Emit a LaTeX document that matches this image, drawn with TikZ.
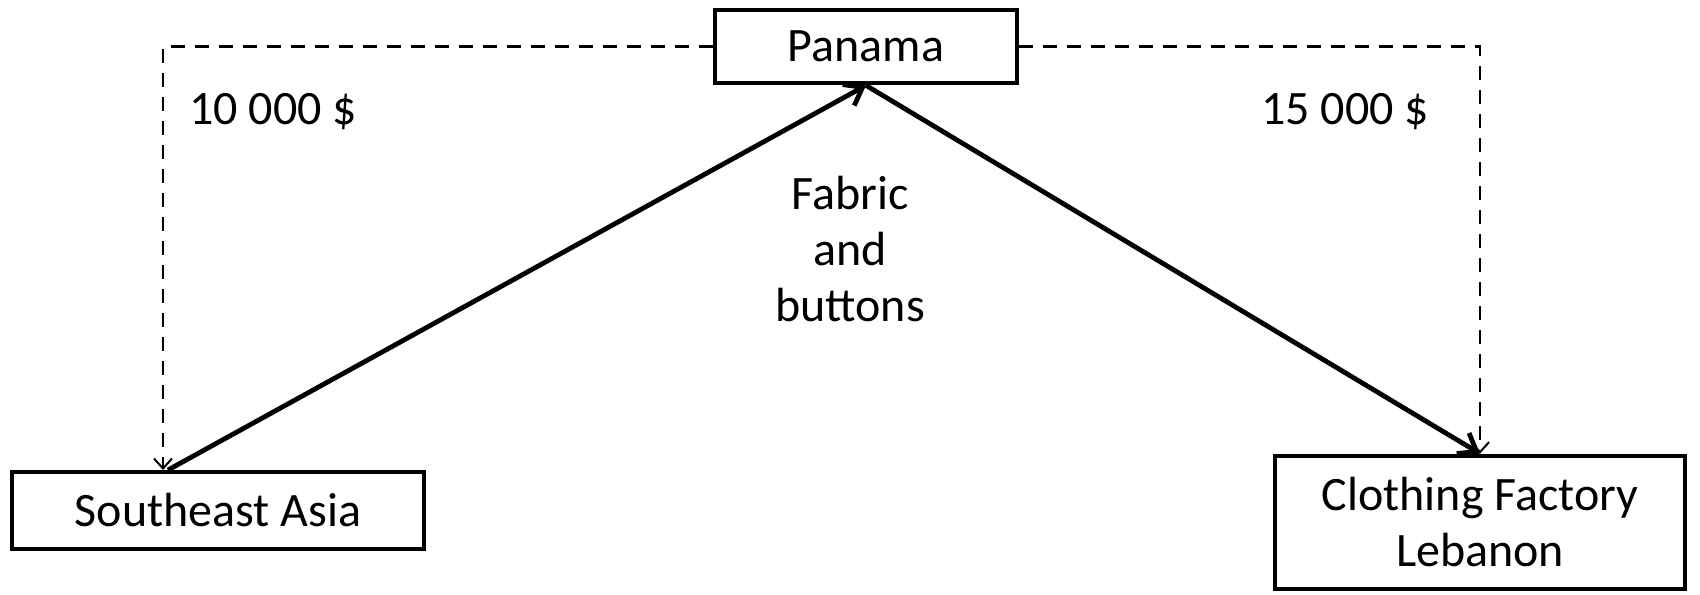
\documentclass[tikz,border=0pt]{standalone}
\usepackage{fontspec}
\setmainfont{Carlito}
\usetikzlibrary{arrows.meta}

\tikzset{
    place/.style={draw, line width=2.4pt, inner sep=0pt, align=center,
        font=\fontsize{24}{28}\selectfont},
    goods/.style={-{Straight Barb[length=8pt, width=12pt, line width=2.4pt]}, line width=2.4pt},
    money/.style={-{Straight Barb[length=5pt, width=9pt, line width=1pt]}, dashed,
        dash pattern=on 7pt off 5pt, line width=1.1pt},
    amount/.style={font=\fontsize{24}{28}\selectfont}
}

\begin{document}
\begin{tikzpicture}[x=0.5pt, y=-0.5pt]

% Frame of the picture (pixel grid of the drawing)
\useasboundingbox (0,0) rectangle (1700,594);

% The three places
\node[place, minimum width=151pt, minimum height=36.5pt] (pan) at (866,46.5) {Panama};
\node[place, minimum width=206pt, minimum height=38.5pt] (sea) at (218,510.5) {Southeast Asia};
\node[place, minimum width=205pt, minimum height=66.5pt] (fac) at (1480,522.5) {Clothing Factory\\Lebanon};

% Where the lines meet the Southeast Asia box
\coordinate (seaOut) at (168,470);
\coordinate (seaIn) at (163,470);

% Flow of goods
\draw[goods] (seaOut) -- (pan.south);
\draw[goods] (pan.south) -- (fac.north);

% Flow of money
\draw[money] (pan.west) -| (seaIn);
\draw[money] (pan.east) -| (fac.north);

% Labels
\node[amount] (payA) at (273,112) {10 000 \$};
\node[amount] (payB) at (1345,112) {15 000 \$};
\node[amount, align=center] (cargo) at (850,249.5) {Fabric\\and\\buttons};

\end{tikzpicture}
\end{document}
